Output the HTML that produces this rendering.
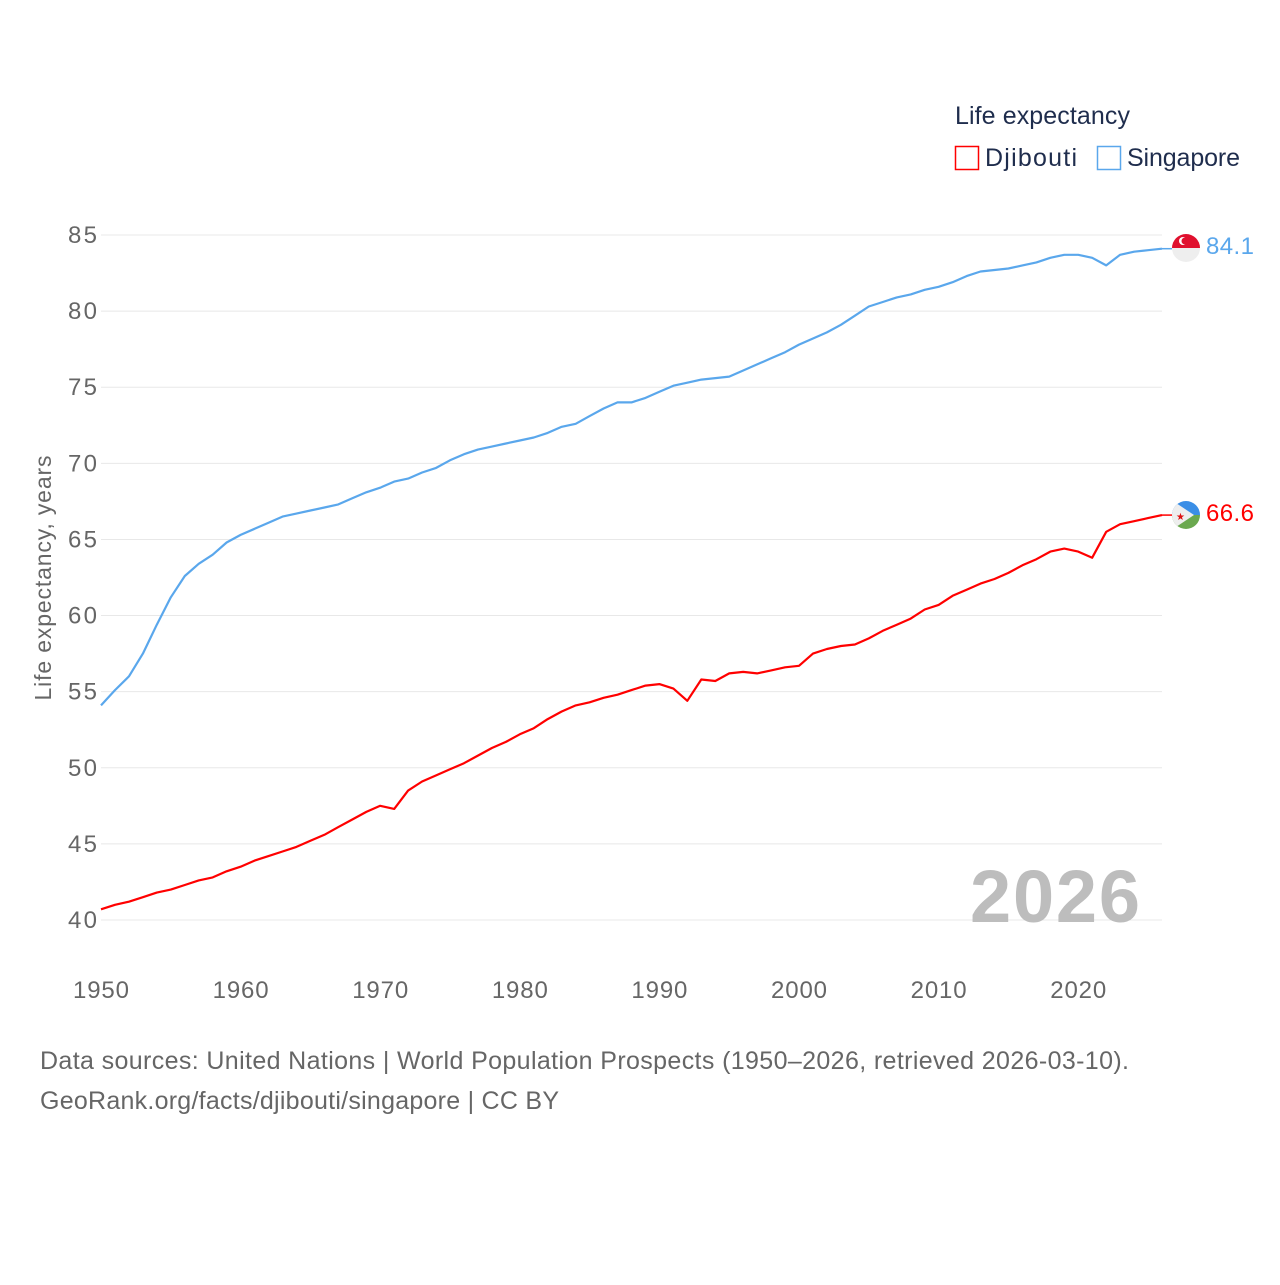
<!DOCTYPE html>
<html><head><meta charset="utf-8"><style>
body{margin:0;background:#fff;font-family:"Liberation Sans",sans-serif}
svg text{font-family:"Liberation Sans",sans-serif}
</style></head><body>
<svg id="chart" width="1280" height="1280" xmlns="http://www.w3.org/2000/svg">
<text x="955" y="124" font-size="25" fill="#1f2d4d" textLength="175">Life expectancy</text>
<g><rect x="955.5" y="146.5" width="23" height="23" fill="none" stroke="#f00" stroke-width="1.5"/><text x="985" y="166" font-size="25" fill="#1f2d4d" textLength="92">Djibouti</text></g>
<g><rect x="1097.5" y="146.5" width="23" height="23" fill="none" stroke="#5aa7ec" stroke-width="1.5"/><text x="1127" y="166" font-size="25" fill="#1f2d4d" textLength="113">Singapore</text></g>
<g id="grid"></g>
<g id="yticks"></g>
<g id="xticks"></g>
<text transform="translate(51,578) rotate(-90)" text-anchor="middle" font-size="23" fill="#666" textLength="245">Life expectancy, years</text>
<text x="1140" y="922" text-anchor="end" font-size="74" font-weight="bold" fill="#bdbdbd" textLength="170">2026</text>
<g id="series"></g>
<g><clipPath id="c1"><circle cx="1186" cy="248" r="14"/></clipPath><g clip-path="url(#c1)"><rect x="1170" y="232" width="32" height="16" fill="#e0102e"/><rect x="1170" y="248" width="32" height="16" fill="#eee"/><circle cx="1183" cy="241" r="4" fill="#fff"/><circle cx="1185" cy="241" r="3.5" fill="#e0102e"/></g></g>
<g><clipPath id="c2"><circle cx="1186" cy="515" r="14"/></clipPath><g clip-path="url(#c2)"><rect x="1170" y="499" width="32" height="16" fill="#3a8ee6"/><rect x="1170" y="515" width="32" height="16" fill="#6aa84f"/><polygon points="1170,499 1194,515 1170,531" fill="#eee"/><text x="1176" y="520" font-size="10" fill="#d11">★</text></g></g>
<text x="1206" y="254" font-size="24" fill="#5aa7ec" textLength="48">84.1</text>
<text x="1206" y="521" font-size="24" fill="#f00" textLength="48">66.6</text>
<text x="40" y="1069" font-size="25" fill="#666" textLength="1089">Data sources: United Nations | World Population Prospects (1950–2026, retrieved 2026-03-10).</text>
<text x="40" y="1109" font-size="25" fill="#666" textLength="519">GeoRank.org/facts/djibouti/singapore | CC BY</text>
</svg>
<script>
const years=[];for(let y=1950;y<=2026;y++)years.push(y);
const singapore=[54.1,55.1,56.0,57.5,59.4,61.2,62.6,63.4,64.0,64.8,65.3,65.7,66.1,66.5,66.7,66.9,67.1,67.3,67.7,68.1,68.4,68.8,69.0,69.4,69.7,70.2,70.6,70.9,71.1,71.3,71.5,71.7,72.0,72.4,72.6,73.1,73.6,74.0,74.0,74.3,74.7,75.1,75.3,75.5,75.6,75.7,76.1,76.5,76.9,77.3,77.8,78.2,78.6,79.1,79.7,80.3,80.6,80.9,81.1,81.4,81.6,81.9,82.3,82.6,82.7,82.8,83.0,83.2,83.5,83.7,83.7,83.5,83.0,83.7,83.9,84.0,84.1];
const djibouti=[40.7,41.0,41.2,41.5,41.8,42.0,42.3,42.6,42.8,43.2,43.5,43.9,44.2,44.5,44.8,45.2,45.6,46.1,46.6,47.1,47.5,47.3,48.5,49.1,49.5,49.9,50.3,50.8,51.3,51.7,52.2,52.6,53.2,53.7,54.1,54.3,54.6,54.8,55.1,55.4,55.5,55.2,54.4,55.8,55.7,56.2,56.3,56.2,56.4,56.6,56.7,57.5,57.8,58.0,58.1,58.5,59.0,59.4,59.8,60.4,60.7,61.3,61.7,62.1,62.4,62.8,63.3,63.7,64.2,64.4,64.2,63.8,65.5,66.0,66.2,66.4,66.6];
const yTicks=[40,45,50,55,60,65,70,75,80,85];
const xTicks=[1950,1960,1970,1980,1990,2000,2010,2020];
const NS="http://www.w3.org/2000/svg";
const X=y=>101+(y-1950)*(1162-101)/76;
const Y=v=>920-(v-40)*(920-235)/45;
function mk(t,a,p){const e=document.createElementNS(NS,t);for(const k in a)e.setAttribute(k,a[k]);document.getElementById(p).appendChild(e);return e;}
yTicks.forEach(v=>{
 const l=mk('line',{x1:101,x2:1162,y1:Y(v),y2:Y(v),stroke:'#e8e8e8','stroke-width':1},'grid');
 
 
 const t=mk('text',{x:97,y:Y(v)+8,'text-anchor':'end','font-size':24,fill:'#666',textLength:29},'yticks');
 t.textContent=v;
 
 
});
xTicks.forEach(v=>{
 const t=mk('text',{x:X(v),y:998,'text-anchor':'middle','font-size':24,fill:'#666',textLength:56},'xticks');
 t.textContent=v;
 
 
});
function line(data,color,name){
 const d=data.map((v,i)=>(i?'L':'M')+X(years[i]).toFixed(1)+','+Y(v).toFixed(1)).join('');
 const p=mk('path',{d:d,fill:'none',stroke:color,'stroke-width':2.2,'stroke-linejoin':'round'},'series');
 
 
 const last=data[data.length-1];
 const c=mk('line',{x1:1162,x2:1172,y1:Y(last),y2:Y(last),stroke:color,'stroke-width':1.5},'series');
 
 
}
line(singapore,'#5aa7ec','singapore-line');
line(djibouti,'#f00','djibouti-line');
</script>
</body></html>
